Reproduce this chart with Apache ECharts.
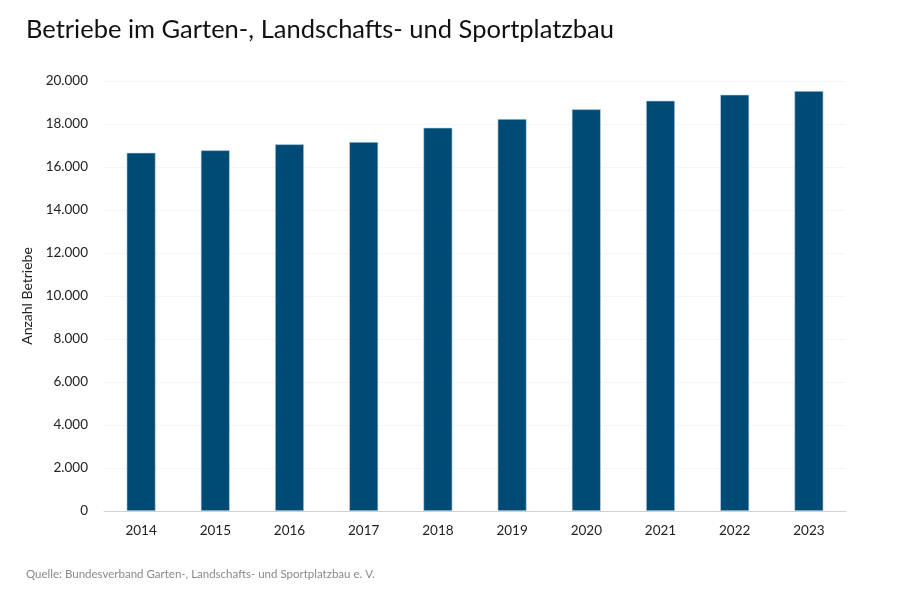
<!DOCTYPE html>
<html><head><meta charset="utf-8">
<script src="https://cdn.jsdelivr.net/npm/echarts@6/dist/echarts.min.js"></script>
<style>html,body{margin:0;padding:0;background:#fff}#c{width:900px;height:590px}</style>
</head><body><div id="c"></div>
<script>
const categories = ['2014','2015','2016','2017','2018','2019','2020','2021','2022','2023'];
const betriebe = [16665, 16777, 17056, 17163, 17828, 18233, 18684, 19084, 19363, 19535];
const titleText = 'Betriebe im Garten-, Landschafts- und Sportplatzbau';
const sourceText = 'Quelle: Bundesverband Garten-, Landschafts- und Sportplatzbau e. V.';
const yName = 'Anzahl Betriebe';

const chart = echarts.init(document.getElementById('c'), null, {renderer:'canvas'});
const font = 'Lato';
chart.setOption({
  animation:false,
  textStyle:{fontFamily:font},
  title:[
    {text:titleText, left:21, top:12, textStyle:{fontFamily:font, fontSize:25.5, fontWeight:'normal', color:'#111'}},
    {text:sourceText, left:21, top:563, textStyle:{fontFamily:font, fontSize:11.5, fontWeight:'normal', color:'#8a8a8a'}}
  ],
  grid:{left:104, right:54, top:81, bottom:79, containLabel:false},
  xAxis:{type:'category', data:categories,
    axisLine:{lineStyle:{color:'#d0d0d0'}}, axisTick:{show:false},
    axisLabel:{color:'#222', fontSize:13.5, margin:13}},
  yAxis:{type:'value', min:0, max:20000, interval:2000,
    name:yName, nameLocation:'middle', nameGap:58, nameRotate:90,
    nameTextStyle:{color:'#222', fontSize:14}, 
    axisLine:{show:false}, axisTick:{show:false},
    axisLabel:{color:'#222', fontSize:13.5, margin:16, formatter:v=>v.toLocaleString('de-DE')},
    splitLine:{lineStyle:{color:'#ececec', type:'dotted'}}},
  series:[{type:'bar', data:betriebe, barWidth:'39%',
    itemStyle:{color:'#004b76', borderColor:'#c9d8e3', borderWidth:0.6}}]
});
</script></body></html>
